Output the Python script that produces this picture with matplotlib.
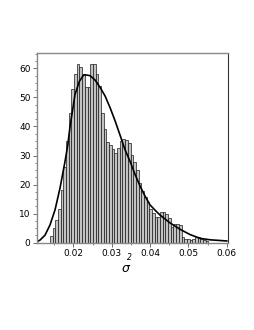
import matplotlib
matplotlib.use("Agg")
import matplotlib.pyplot as plt
import numpy as np
from matplotlib.ticker import MultipleLocator

# Histogram: bin left edges start and bin width, and counts per bin
bin_start = 0.0139
bin_width = 0.0007
counts = [2.4, 5, 7.8, 11.6, 18, 26, 35, 44.6, 53, 58,
          61.5, 60.5, 58, 53.5, 53.5, 61.5, 61.5, 58, 53.8, 44.6,
          39.2, 34.6, 33.5, 32.3, 30.8, 32.5, 35, 35.8, 35.4, 34.3,
          30.2, 27.7, 25, 20.5, 17.8, 15.9, 14.1, 11.6, 10.1, 9,
          9, 10.5, 10.5, 9.9, 8.4, 5.5, 6.4, 6.4, 6.1, 2.1,
          1.2, 1.2, 0.9, 1.2, 1.9, 1.9, 1.4, 0.9, 0.6]

# Fitted density curve (read points)
curve_x = [0.01046, 0.01132, 0.01262, 0.01392, 0.01523, 0.01653, 0.01784,
           0.01854, 0.01914, 0.02044, 0.02156, 0.02261, 0.02305, 0.02435,
           0.02566, 0.02696, 0.02827, 0.02957, 0.03087, 0.03218, 0.03348,
           0.03478, 0.03609, 0.03739, 0.03870, 0.04000, 0.04130, 0.04261,
           0.04522, 0.04782, 0.05043, 0.05303, 0.05564, 0.06000]
curve_y = [0.3, 0.9, 2.6, 6.1, 11.3, 18.8, 28, 33.5, 40, 51, 55.5, 57.6, 57.8,
           57.5, 56, 53.5, 50.5, 46.5, 42, 37, 32, 28, 23.5, 19.5, 16, 13,
           11.2, 9.5, 6.8, 4.6, 2.8, 1.5, 1.0, 0.6]

x_ticks = [0.02, 0.03, 0.04, 0.05, 0.06]
x_tick_labels = ["0.02", "0.03", "0.04", "0.05", "0.06"]
y_ticks = [0, 10, 20, 30, 40, 50, 60]

fig = plt.figure(figsize=(2.55, 3.30), dpi=100)
ax = fig.add_axes([0.144, 0.2645, 0.750, 0.5758])

lefts = bin_start + bin_width * np.arange(len(counts))
ax.bar(lefts, counts, width=bin_width, align="edge",
       color="#c2c2c2", edgecolor="#1a1a1a", linewidth=0.5)
ax.plot(curve_x, curve_y, color="black", linewidth=1.2)

ax.set_xlim(0.01046, 0.0603)
ax.set_ylim(0, 65.4)
ax.set_xticks(x_ticks)
ax.set_xticklabels(x_tick_labels)
ax.set_yticks(y_ticks)
ax.xaxis.set_minor_locator(MultipleLocator(0.005))
ax.yaxis.set_minor_locator(MultipleLocator(2.5))
ax.tick_params(axis="both", which="major", labelsize=6.5, length=3, width=0.6,
               color="#555555", pad=1.5)
ax.tick_params(axis="both", which="minor", length=1.5, width=0.5, color="#555555")

for side in ["top", "left", "bottom"]:
    ax.spines[side].set_color("#888888")
    ax.spines[side].set_linewidth(1.0)
ax.spines["right"].set_color("#333333")
ax.spines["right"].set_linewidth(0.8)

fig.text(126 / 255, 1 - 268 / 330, "\u03c3", fontsize=9, style="italic",
         ha="center", va="center")
fig.text(129.5 / 255, 1 - 257 / 330, "2", fontsize=5.5, style="italic",
         ha="center", va="center")

fig.savefig("out.png", dpi=100)
